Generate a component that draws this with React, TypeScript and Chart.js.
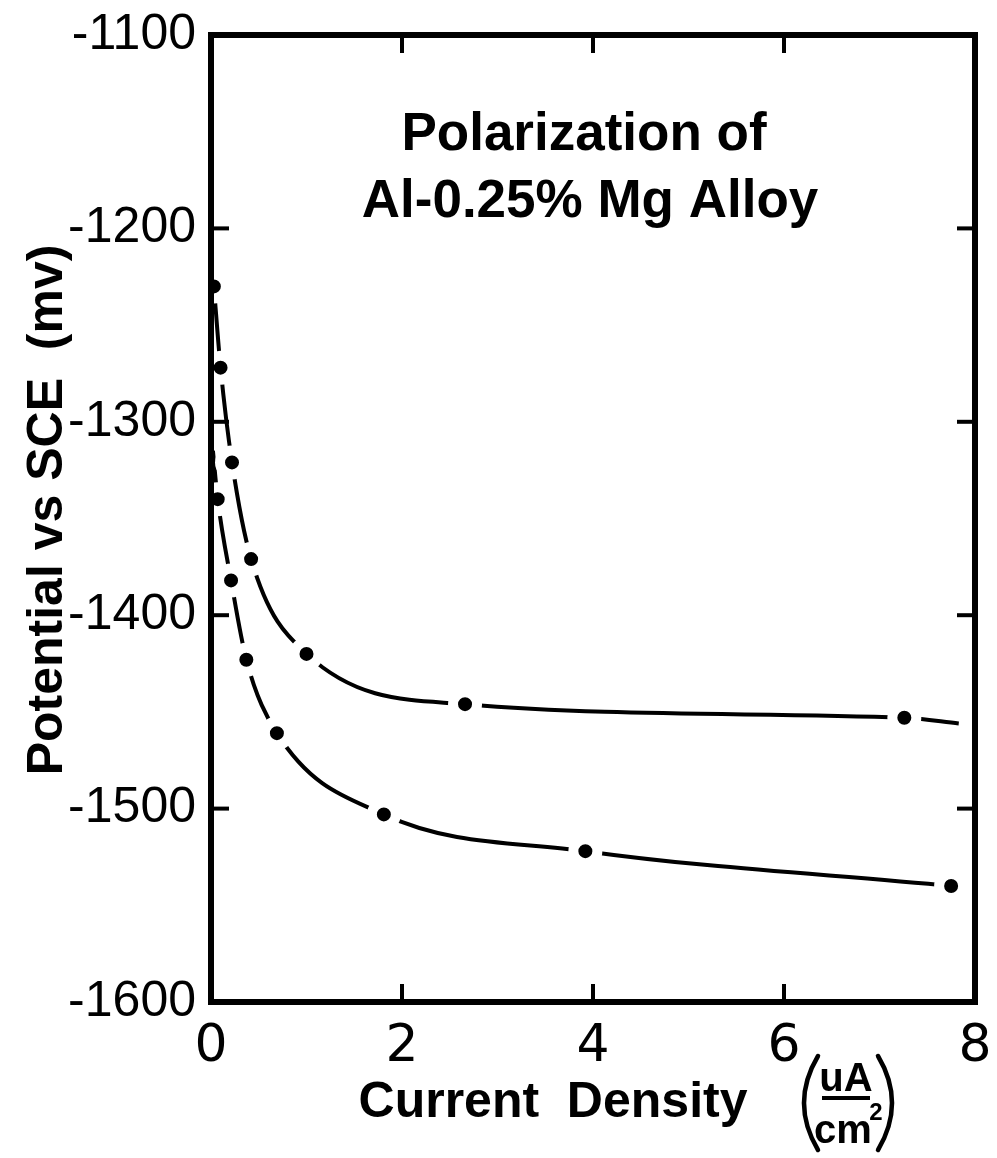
import React, { useEffect, useRef } from "react";
import { Chart, registerables } from "chart.js";

Chart.register(...registerables);

// ---- data ----
const upperX = [0.03, 0.1, 0.22, 0.42, 1.0, 2.66, 7.26, 7.83];
const upperY = [-1230, -1272, -1321, -1371, -1420, -1446, -1453, -1456];
const upperMarked = [true, true, true, true, true, true, true, false];

const lowerX = [0.02, 0.07, 0.21, 0.37, 0.69, 1.81, 3.92, 7.75];
const lowerY = [-1315, -1340, -1382, -1423, -1461, -1503, -1522, -1540];
const lowerMarked = [false, true, true, true, true, true, true, true];

const xTicks = [0, 2, 4, 6, 8];
const yTicks = [-1600, -1500, -1400, -1300, -1200, -1100];

const titleLines = ["Polarization of", "Al-0.25% Mg Alloy"];
const yTitle = "Potential vs SCE  (mv)";
const xTitle = "Current  Density";
const unitNum = "uA";
const unitDen = "cm";
const unitExp = "2";

const W = 997;
const H = 1158;

function toPoints(xs: number[], ys: number[]) {
  return xs.map((x, i) => ({ x, y: ys[i] }));
}

export default function App() {
  const ref = useRef<HTMLCanvasElement>(null);

  useEffect(() => {
    document.body.style.margin = "0";
    const canvas = ref.current;
    if (!canvas) return;

    const framePlugin = {
      id: "frameAndText",
      afterDatasetsDraw(chart: any) {
        const { ctx, chartArea: a, scales } = chart;
        const line = (x1: number, y1: number, x2: number, y2: number) => {
          ctx.beginPath();
          ctx.moveTo(x1, y1);
          ctx.lineTo(x2, y2);
          ctx.stroke();
        };
        ctx.save();
        ctx.strokeStyle = "#000";
        ctx.fillStyle = "#000";
        ctx.lineWidth = 6;
        ctx.lineCap = "square";
        ctx.strokeRect(a.left, a.top, a.right - a.left, a.bottom - a.top);
        ctx.lineWidth = 4;
        ctx.lineCap = "butt";
        const tl = 18;
        yTicks.slice(1, -1).forEach((v) => {
          const y = scales.y.getPixelForValue(v);
          line(a.left, y, a.left + tl, y);
          line(a.right, y, a.right - tl, y);
        });
        xTicks.slice(1, -1).forEach((v) => {
          const x = scales.x.getPixelForValue(v);
          line(x, a.bottom, x, a.bottom - tl);
          line(x, a.top, x, a.top + tl);
        });

        // inner title
        ctx.font = 'bold 53px "Liberation Sans", Arial, sans-serif';
        ctx.textAlign = "center";
        ctx.textBaseline = "alphabetic";
        ctx.fillText(titleLines[0], 584, 150);
        ctx.fillText(titleLines[1], 590, 217);

        // y title
        ctx.save();
        ctx.translate(62, 510);
        ctx.rotate(-Math.PI / 2);
        ctx.font = 'bold 50px "Liberation Sans", Arial, sans-serif';
        ctx.textAlign = "center";
        ctx.fillText(yTitle, 0, 0);
        ctx.restore();

        // x title
        ctx.font = 'bold 50px "Liberation Sans", Arial, sans-serif';
        ctx.textAlign = "center";
        ctx.fillText(xTitle, 553, 1117);
        // parentheses
        ctx.lineWidth = 4.5;
        ctx.lineCap = "round";
        ctx.beginPath();
        ctx.moveTo(818, 1056);
        ctx.quadraticCurveTo(790, 1103, 818, 1150);
        ctx.stroke();
        ctx.beginPath();
        ctx.moveTo(878, 1056);
        ctx.quadraticCurveTo(906, 1103, 878, 1150);
        ctx.stroke();
        // fraction
        ctx.font = 'bold 40px "Liberation Sans", Arial, sans-serif';
        ctx.fillText(unitNum, 846, 1091);
        ctx.fillText(unitDen, 843, 1143);
        ctx.font = 'bold 24px "Liberation Sans", Arial, sans-serif';
        ctx.fillText(unitExp, 876, 1120);
        ctx.lineWidth = 4;
        ctx.lineCap = "butt";
        line(822, 1098, 870, 1098);
        ctx.restore();
      },
    };

    const chart = new Chart(canvas, {
      type: "line",
      data: {
        datasets: [
          {
            data: toPoints(upperX, upperY),
            borderColor: "#000",
            borderWidth: 4,
            cubicInterpolationMode: "monotone",
            pointRadius: upperMarked.map((m) => (m ? 12 : 0)),
            pointBorderWidth: 10,
            pointBorderColor: "#fff",
            pointBackgroundColor: "#000",
            fill: false,
          },
          {
            data: toPoints(lowerX, lowerY),
            borderColor: "#000",
            borderWidth: 4,
            cubicInterpolationMode: "monotone",
            pointRadius: lowerMarked.map((m) => (m ? 12 : 0)),
            pointBorderWidth: 10,
            pointBorderColor: "#fff",
            pointBackgroundColor: "#000",
            fill: false,
          },
        ],
      },
      options: {
        responsive: false,
        animation: false,
        events: [],
        layout: { padding: { top: 35, right: 13, left: 0, bottom: 0 } },
        plugins: { legend: { display: false }, tooltip: { enabled: false } },
        scales: {
          x: {
            type: "linear",
            min: 0,
            max: 8,
            grid: { display: false, drawTicks: false },
            border: { display: false },
            ticks: {
              stepSize: 2,
              padding: 14,
              color: "#000",
              font: { family: '"DejaVu Sans", sans-serif', size: 52 },
              callback: (v: any) => String(v),
            },
            afterFit: (s: any) => {
              s.height = 156;
              s.paddingLeft = 0;
              s.paddingRight = 0;
            },
          },
          y: {
            type: "linear",
            min: -1600,
            max: -1100,
            grid: { display: false, drawTicks: false },
            border: { display: false },
            ticks: {
              stepSize: 100,
              padding: 15,
              color: "#000",
              font: { family: '"Liberation Sans", Arial, sans-serif', size: 50 },
              callback: (v: any) => String(v),
            },
            afterFit: (s: any) => {
              s.width = 211;
              s.paddingTop = 0;
              s.paddingBottom = 0;
            },
          },
        },
      },
      plugins: [framePlugin],
    } as any);

    return () => chart.destroy();
  }, []);

  return <canvas ref={ref} width={W} height={H} style={{ display: "block" }} />;
}
